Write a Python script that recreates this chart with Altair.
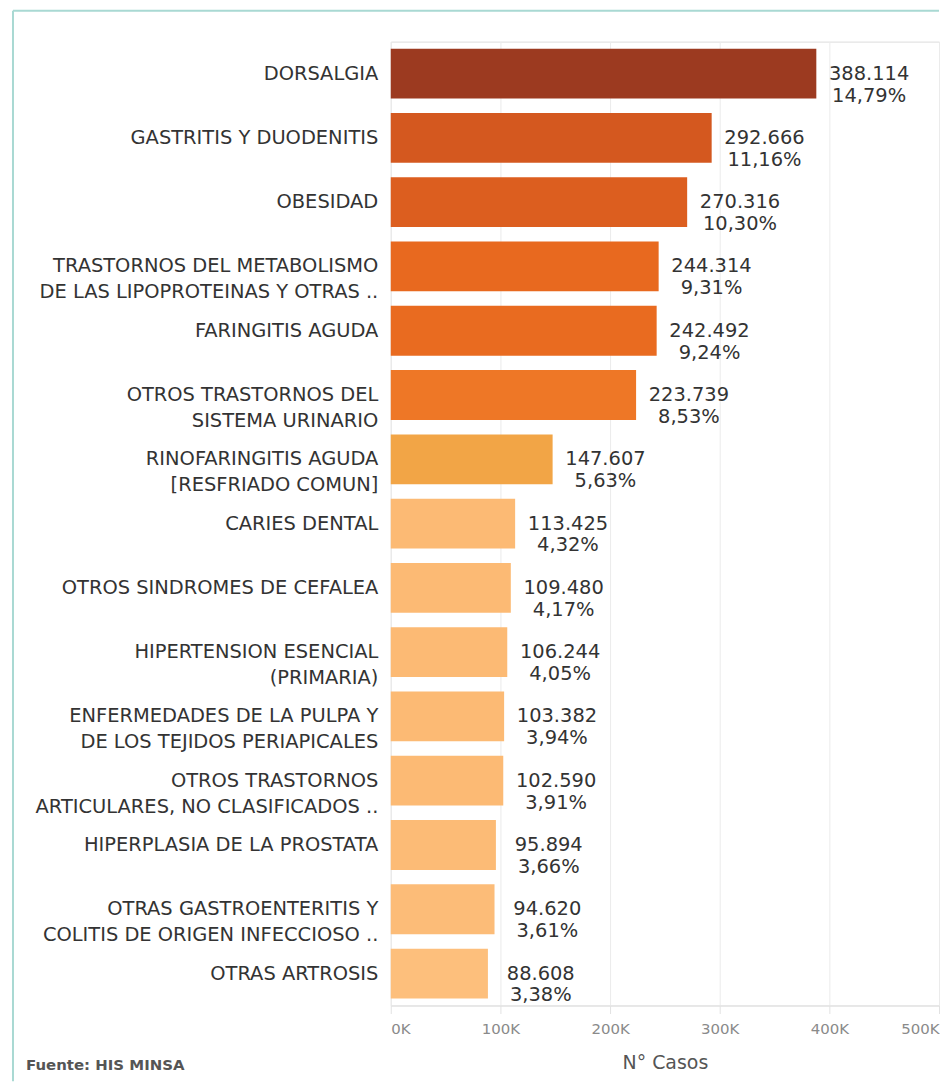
import altair as alt
import pandas as pd

categories = [
    "DORSALGIA",
    "GASTRITIS Y DUODENITIS",
    "OBESIDAD",
    "TRASTORNOS DEL METABOLISMO|DE LAS LIPOPROTEINAS Y OTRAS ..",
    "FARINGITIS AGUDA",
    "OTROS TRASTORNOS DEL|SISTEMA URINARIO",
    "RINOFARINGITIS AGUDA|[RESFRIADO COMUN]",
    "CARIES DENTAL",
    "OTROS SINDROMES DE CEFALEA",
    "HIPERTENSION ESENCIAL|(PRIMARIA)",
    "ENFERMEDADES DE LA PULPA Y|DE LOS TEJIDOS PERIAPICALES",
    "OTROS TRASTORNOS|ARTICULARES, NO CLASIFICADOS ..",
    "HIPERPLASIA DE LA PROSTATA",
    "OTRAS GASTROENTERITIS Y|COLITIS DE ORIGEN INFECCIOSO ..",
    "OTRAS ARTROSIS",
]
values = [388114, 292666, 270316, 244314, 242492, 223739, 147607, 113425,
          109480, 106244, 103382, 102590, 95894, 94620, 88608]
pcts = [14.79, 11.16, 10.30, 9.31, 9.24, 8.53, 5.63, 4.32,
        4.17, 4.05, 3.94, 3.91, 3.66, 3.61, 3.38]
colors = ["#9C3A20", "#D4581F", "#DC5E1F", "#E8691F", "#E96B20", "#EE7726",
          "#F2A546", "#FCBA74", "#FCBA74", "#FCBA74", "#FCBA74", "#FCBA74",
          "#FCBB76", "#FCBC78", "#FDBF7C"]
footer = "Fuente: HIS MINSA"


def fmt_int(v):
    return f"{v:,}".replace(",", ".")


def fmt_pct(p):
    return f"{p:.2f}".replace(".", ",") + "%"


df = pd.DataFrame({
    "cat": categories,
    "value": values,
    "color": colors,
    "label": [fmt_int(v) + "\n" + fmt_pct(p) for v, p in zip(values, pcts)],
})

FONT = "DejaVu Sans"

y_enc = alt.Y(
    "cat:N",
    sort=categories,
    scale=alt.Scale(paddingInner=0.225, paddingOuter=0.11),
    axis=alt.Axis(
        title=None,
        labelExpr="split(datum.label, '|')",
        labelFont=FONT,
        labelFontSize=19.5,
        labelColor="#333333",
        labelPadding=13,
        labelLineHeight=26,
        labelLimit=420,
        domain=False,
        ticks=False,
        grid=False,
        minExtent=382,
        maxExtent=382,
    ),
)

x_enc = alt.X(
    "value:Q",
    scale=alt.Scale(domain=[0, 500000], nice=False),
    axis=alt.Axis(
        title="N° Casos",
        values=[0, 100000, 200000, 300000, 400000, 500000],
        labelExpr="datum.value / 1000 + 'K'",
        labelFlush=True,
        labelFont=FONT,
        labelFontSize=15,
        labelColor="#8a8a8a",
        labelPadding=8,
        titleFont=FONT,
        titleFontSize=19,
        titleFontWeight="normal",
        titleColor="#555555",
        titlePadding=17,
        grid=True,
        gridColor="#ebebeb",
        domainColor="#e2e2e2",
        tickColor="#e2e2e2",
        tickSize=8,
    ),
)

bars = alt.Chart(df).mark_bar().encode(
    y=y_enc,
    x=x_enc,
    color=alt.Color("color:N", scale=None),
)

labels = alt.Chart(df).mark_text(
    align="center", baseline="middle", dx=53, lineBreak="\n",
    font=FONT, fontSize=19.5, color="#333333", lineHeight=22,
).encode(
    y=alt.Y("cat:N", sort=categories),
    x="value:Q",
    text="label:N",
)

one = pd.DataFrame({"t": [footer]})

footer_text = alt.Chart(one).mark_text(
    align="left", baseline="middle", font=FONT, fontSize=15,
    fontWeight="bold", color="#555555",
).encode(x=alt.value(-366), y=alt.value(1027), text="t:N")

border_top = alt.Chart(one).mark_rule(color="#a9d9d3", strokeWidth=2).encode(
    x=alt.value(-379), x2=alt.value(550), y=alt.value(-31)
)
border_left = alt.Chart(one).mark_rule(color="#a9d9d3", strokeWidth=2).encode(
    x=alt.value(-379), y=alt.value(-31), y2=alt.value(1043)
)

chart = alt.layer(bars, labels, footer_text, border_top, border_left).properties(
    width=550, height=967,
    padding={"left": 2, "top": 0, "right": 0, "bottom": 0},
).configure_view(stroke=None).configure(background="white")

chart.save("out.html", embed_options={"renderer": "svg", "actions": False})
